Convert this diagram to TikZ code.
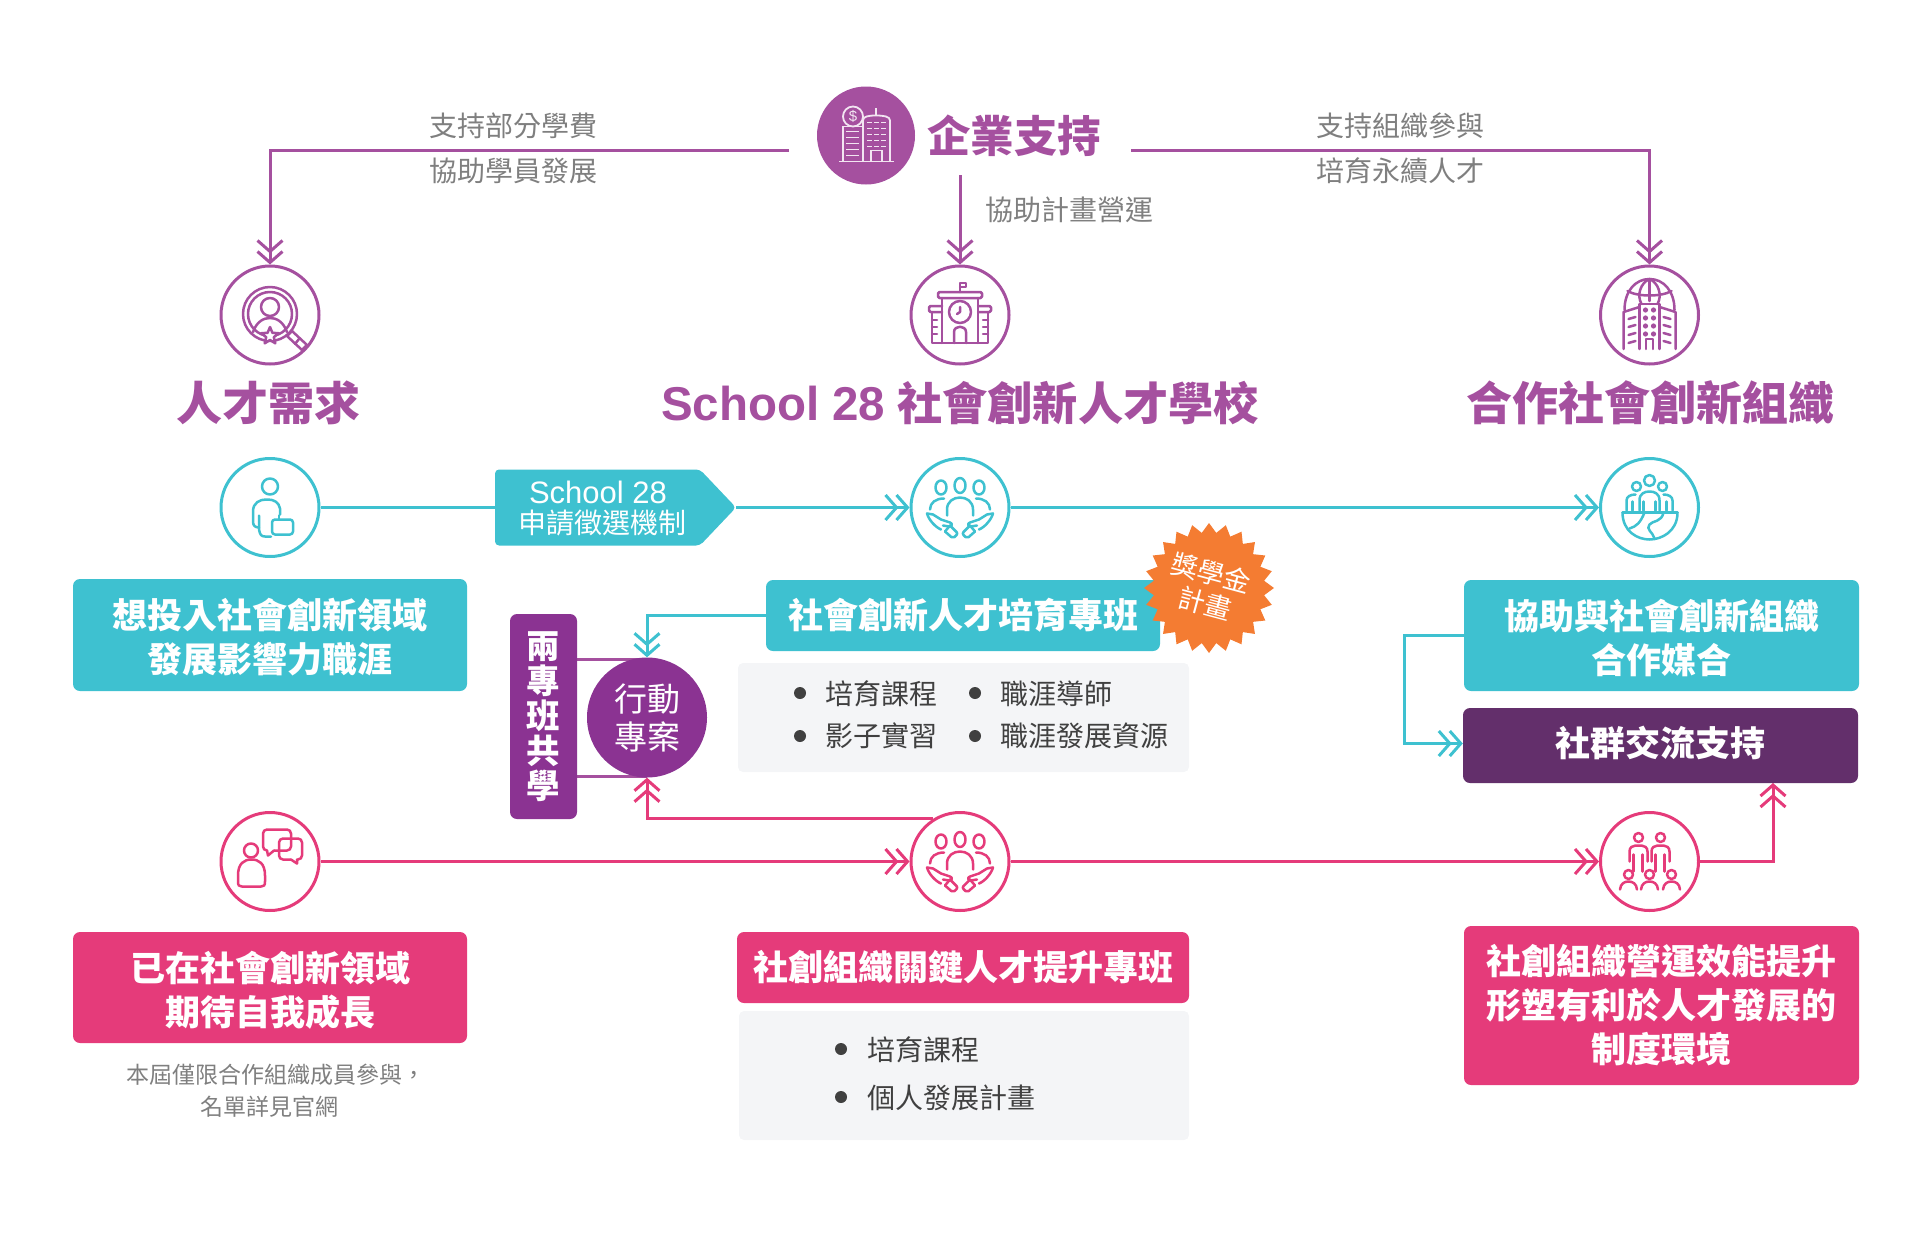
\documentclass[tikz,border=0pt]{standalone}
\usepackage{fontspec}
\setmainfont{Noto Sans CJK TC}
\newfontfamily\latf{Liberation Sans}
\usetikzlibrary{arrows.meta,shapes.geometric,shapes.symbols,backgrounds}
\definecolor{cpur}{HTML}{A5509F}
\definecolor{cvio}{HTML}{8B3392}
\definecolor{cdeep}{HTML}{632F6B}
\definecolor{cteal}{HTML}{3EC1D0}
\definecolor{cpink}{HTML}{E53B7A}
\definecolor{corg}{HTML}{F47C32}
\definecolor{cgr}{HTML}{7F7F7F}
\definecolor{cdk}{HTML}{404040}
\definecolor{cbg}{HTML}{F4F5F7}
\newcommand{\fz}[2]{\fontsize{#1}{#2}\selectfont}
\newcommand{\dn}[2][2.4pt]{\raisebox{-#1}[\height][\depth]{#2}}
\tikzset{
  chev/.style={-{Straight Barb[length=11pt,width=25pt,line width=3pt,sep=-3.5pt]Straight Barb[length=11pt,width=25pt,line width=3pt]}},
  conn/.style={line width=3pt,chev},
  plain/.style={line width=3pt},
  ring/.style={circle,draw=#1,line width=3pt,fill=white,minimum size=98pt,inner sep=0pt},
  box/.style={rectangle,rounded corners=7pt,fill=#1,text=white,font=\bfseries\fz{35}{44},align=center,inner sep=0pt},
  panel/.style={rectangle,rounded corners=5pt,fill=cbg,inner sep=0pt},
  lbl/.style={text=cgr,font=\fz{28}{30},inner sep=0pt},
  item/.style={text=cdk,font=\fz{28}{30},inner sep=0pt,anchor=west},
  head/.style={text=cpur,font=\bfseries\fz{46}{50},inner sep=0pt},
  dotb/.style={circle,fill=cdk,minimum size=12pt,inner sep=0pt},
  icon/.style={color=#1,line width=2.5pt,line cap=round,line join=round},
}
\newcommand{\icoMag}{%
  \draw (0,-1) circle[radius=27];
  \draw (0,-1) circle[radius=22];
  \draw (0,-8) circle[radius=9];
  \draw (-17,17) .. controls (-13,6) and (-6,3) .. (0,3) .. controls (6,3) and (13,6) .. (17,17);
  \draw[fill=white] (0,12) -- (2.4,17.8) -- (8.6,18.2) -- (3.8,22.2) -- (5.3,28.3) -- (0,25) -- (-5.3,28.3) -- (-3.8,22.2) -- (-8.6,18.2) -- (-2.4,17.8) -- cycle;
  \draw[fill=white] (17,21) -- (22,16) -- (37,30) -- (32,35) -- cycle;
  \draw (25,29) -- (29,24);
}
\newcommand{\icoSchool}{%
  \draw (0,-23) -- (0,-32) -- (6,-32) -- (6,-28) -- (0,-28);
  \draw[rounded corners=1.5pt] (-22,-23) rectangle (22,-17);
  \draw (-18,-17) -- (-18,28) (18,-17) -- (18,28);
  \draw[rounded corners=1.5pt] (-18,-9) -- (-31,-9) -- (-31,-3) -- (-18,-3);
  \draw[rounded corners=1.5pt] (18,-9) -- (31,-9) -- (31,-3) -- (18,-3);
  \draw (-28,-3) -- (-28,28) -- (28,28) -- (28,-3);
  \draw (0,-3) circle[radius=11];
  \draw (0,-3) -- (0,-8) (0,-3) -- (-3,-1);
  \draw (-6,28) -- (-6,17) .. controls (-6,10) and (6,10) .. (6,17) -- (6,28);
  \foreach \yy in {5,12,19}{\draw (-28,\yy) -- (-23,\yy) (28,\yy) -- (23,\yy);}
}
\newcommand{\icoGlobe}{%
  \draw (-25,-5) .. controls (-25,-24) and (-14,-36) .. (0,-36) .. controls (14,-36) and (25,-24) .. (25,-5);
  \draw (0,-36) -- (0,-14);
  \draw (-8,-11) .. controls (-13,-20) and (-9,-32) .. (0,-36) .. controls (9,-32) and (13,-20) .. (8,-11);
  \draw (-22,-24) .. controls (-12,-18) and (12,-18) .. (22,-24);
  \draw (-10,34) -- (-10,-11) -- (10,-11) -- (10,34);
  \foreach \yy in {-5,3,11,19}{\fill (-4,\yy) circle[radius=2.6]; \fill (4,\yy) circle[radius=2.6];}
  \draw (-3.5,34) -- (-3.5,24) -- (3.5,24) -- (3.5,34);
  \draw (-10,-8) -- (-26,-3) -- (-26,34);
  \draw (10,-8) -- (26,-3) -- (26,34);
  \foreach \yy in {4,12,20,28}{\draw (-21,\yy) -- (-14,\yy-2); \draw (21,\yy) -- (14,\yy-2);}
}
\newcommand{\icoPerson}{%
  \draw (0,-21) circle[radius=8];
  \draw (1,29) -- (-5,29) .. controls (-9,29) and (-10,27) .. (-11,22) -- (-11,8);
  \draw (-11,20) .. controls (-15,20) and (-17,18) .. (-17,14) -- (-17,4) .. controls (-17,-5) and (-10,-8) .. (-4,-8) -- (-2,-8) .. controls (4,-8) and (9,-5) .. (10,1) -- (10,7);
  \draw[rounded corners=3pt] (2,12) rectangle (23,27);
  \draw (9,12) -- (9,8);
}
\newcommand{\icoHands}{%
  \draw (0,-22) ellipse[x radius=5.5,y radius=7.5];
  \draw (-19,-20) ellipse[x radius=5.5,y radius=7];
  \draw (19,-20) ellipse[x radius=5.5,y radius=7];
  \draw (-13,8) -- (-13,2) .. controls (-13,-14) and (13,-14) .. (13,2) -- (13,8);
  \draw (-30,2) .. controls (-30,-5) and (-24,-9) .. (-16,-9);
  \draw (30,2) .. controls (30,-5) and (24,-9) .. (16,-9);
  \foreach \sg in {-1,1}{%
    \begin{scope}[xscale=\sg]
    \draw (33,6) .. controls (31,13) and (24,20) .. (19,22);
    \draw (33,6) -- (27,7) -- (19,12) -- (10,15) .. controls (7,16) and (8,19) .. (11,19) -- (17,18);
    \draw[rounded corners=2pt] (15,24) -- (7,31) -- (2,26) -- (10,18);
    \draw (15,24) -- (10,18);
    \end{scope}}
}
\newcommand{\icoEarth}{%
  \draw (0,-27) ellipse[x radius=5.5,y radius=5.5];
  \draw (-13,-21) circle[radius=4.5];
  \draw (13,-21) circle[radius=4.5];
  \draw (-10,3) -- (-10,-7) .. controls (-10,-14) and (-5,-16) .. (0,-16) .. controls (5,-16) and (10,-14) .. (10,-7) -- (10,3);
  \draw (-6,-6) -- (-6,3) (6,-6) -- (6,3);
  \draw (-23,3) -- (-23,-7) .. controls (-23,-11) and (-19,-13) .. (-14,-13);
  \draw (23,3) -- (23,-7) .. controls (23,-11) and (19,-13) .. (14,-13);
  \draw (-17,-6) -- (-17,3) (17,-6) -- (17,3);
  \draw (-27,5) -- (28,5);
  \draw (-27,5) .. controls (-27,24) and (-12,32) .. (0,32) .. controls (12,32) and (28,24) .. (28,5);
  \draw (-20,21) .. controls (-13,19) and (-9,15) .. (-5,5);
  \draw (5,31) .. controls (3,24) and (-4,22) .. (0,17) .. controls (3,13) and (12,15) .. (14,5);
}
\newcommand{\icoCrowd}{%
  \foreach \sx in {-11,11}{%
    \draw (\sx,-24) circle[radius=4.5];
    \draw (\sx-9,0) -- (\sx-9,-10) .. controls (\sx-9,-14) and (\sx-6,-16) .. (\sx-3,-16) -- (\sx+3,-16) .. controls (\sx+6,-16) and (\sx+9,-14) .. (\sx+9,-10) -- (\sx+9,0);
    \draw (\sx-5,-7) -- (\sx-5,10) (\sx+4,-7) -- (\sx+4,10);
  }
  \foreach \sx in {-21,0,22}{%
    \draw (\sx,13) circle[radius=4.5];
    \draw (\sx-8.5,28) .. controls (\sx-8,22) and (\sx-4,20) .. (\sx,20) .. controls (\sx+4,20) and (\sx+8,22) .. (\sx+8.5,28);
  }
}
\newcommand{\icoTalk}{%
  \draw (-19,-11) circle[radius=7];
  \draw (-32,14) .. controls (-32,2) and (-26,-2) .. (-18.5,-2) .. controls (-11,-2) and (-5,2) .. (-5,14) -- (-5,20) .. controls (-5,24) and (-6,25) .. (-9,25) -- (-28,25) .. controls (-31,25) and (-32,24) .. (-32,20) -- cycle;
  \draw[rounded corners=4pt] (-3,-11) -- (-7,-11) -- (-7,-32) -- (21,-32) -- (21,-11) -- (4,-11);
  \draw (-3,-11) -- (-2,-6) -- (4,-11);
  \draw[rounded corners=4pt] (21,-2) -- (9,-2) -- (9,-23) -- (32,-23) -- (32,-2) -- (27,-2);
  \draw (21,-2) -- (27,2) -- (27,-2);
}
\begin{document}
\begin{tikzpicture}[x=1pt,y=-1pt]
\useasboundingbox (0,0) rectangle (1920,1250);

% top
\node[circle,fill=cpur,minimum size=98pt,inner sep=0pt] (top) at (866,135.5) {};
\node[inner sep=0pt,text=cpur,font=\bfseries\fz{43.5}{46}] (toplab) at (1014,136) {企業支持};
\begin{scope}[shift={(top.center)},color=white!85!cpur,line width=1.8pt]
  \draw (-13,-19) circle[radius=10];
  \node[inner sep=0pt,font=\latf\fz{15}{15},text=white!85!cpur] (dollar) at (-13,-19) {\$};
  \draw (-23,26) -- (-23,-9) -- (-4,-9);
  \draw (-3,26) -- (-3,-15) .. controls (-3,-19) and (2,-20) .. (10,-20) .. controls (18,-20) and (24,-19) .. (24,-15) -- (24,26);
  \draw (10,-20) -- (10,-28);
  \draw (-27,26) -- (28,26);
  \foreach \yy in {-4,2,8,14,20}{\draw (-20,\yy) -- (-7,\yy);}
  \foreach \yy in {-13,-7,-1,5,11}{\foreach \xx in {1,8,15}{\draw (\xx,\yy) -- (\xx+4.5,\yy);}}
  \draw (5,26) -- (5,15) -- (16,15) -- (16,26);
\end{scope}

% purple rings and heads
\node[ring=cpur] (c1) at (270,315) {};
\node[ring=cpur] (c2) at (960,315) {};
\node[ring=cpur] (c3) at (1649.5,315) {};
\begin{scope}[shift={(c1.center)},icon=cpur]\icoMag\end{scope}
\begin{scope}[shift={(c2.center)},icon=cpur]\icoSchool\end{scope}
\begin{scope}[shift={(c3.center)},icon=cpur]\icoGlobe\end{scope}
\node[head] (h1) at (268,403) {人才需求};
\node[head,font=\bfseries\fz{45.2}{50}] (h2) at (960,403) {{\latf\fz{47.5}{50}School 28}\hspace{12pt}社會創新人才學校};
\node[head] (h3) at (1650,403) {合作社會創新組織};

% labels
\node[lbl] (l1) at (513.5,126) {支持部分學費};
\node[lbl] (l2) at (513.5,171) {協助學員發展};
\node[lbl] (l3) at (1069,210) {協助計畫營運};
\node[lbl] (l4) at (1400,126) {支持組織參與};
\node[lbl] (l5) at (1400,171) {培育永續人才};

% teal row
\node[ring=cteal] (t1) at (270,507.5) {};
\node[ring=cteal] (t2) at (960,507.5) {};
\node[ring=cteal] (t3) at (1649.5,507.5) {};
\begin{scope}[shift={(t1.center)},icon=cteal]\icoPerson\end{scope}
\begin{scope}[shift={(t2.center)},icon=cteal]\icoHands\end{scope}
\begin{scope}[shift={(t3.center)},icon=cteal]\icoEarth\end{scope}
\node[signal,signal to=east,signal pointer angle=93,fill=cteal,rounded corners=4pt,minimum width=241pt,minimum height=76pt,inner sep=0pt,text=white,align=center] (pen) at (597.5,507.5) {};
\node[inner sep=0pt,text=white,font=\latf\fz{31}{32}] (pen1) at (598,492) {School 28};
\node[inner sep=0pt,text=white,font=\fz{28}{30}] (pen2) at (602,523) {申請徵選機制};

% teal boxes
\node[box=cteal,minimum width=394pt,minimum height=112pt] (bx1) at (270,635) {\dn{想投入社會創新領域}\\\dn{發展影響力職涯}};
\node[box=cteal,minimum width=394pt,minimum height=71pt] (bx2) at (963,615.5) {社會創新人才培育專班};
\node[box=cteal,minimum width=395pt,minimum height=111pt] (bx3) at (1661.5,635.5) {\dn{協助與社會創新組織}\\\dn{合作媒合}};
\node[box=cdeep,minimum width=395pt,minimum height=75pt] (bx4) at (1660.5,745.5) {\dn[-2.4pt]{社群交流支持}};

% scholarship burst
\node[star,star points=24,star point ratio=1.17,fill=corg,minimum size=130pt,inner sep=0pt] (burst) at (1209,588) {};
\node[inner sep=0pt,text=white,font=\fz{27}{30},rotate=-15] (bu1) at (1211,573) {獎學金};
\node[inner sep=0pt,text=white,font=\fz{27}{30},rotate=-15] (bu2) at (1205,604) {計畫};

% panel 1
\node[panel,minimum width=451pt,minimum height=109pt] (p1) at (963.5,717.5) {};
\node[dotb] (d1) at (800,693) {};
\node[dotb] (d2) at (975,693) {};
\node[dotb] (d3) at (800,736) {};
\node[dotb] (d4) at (975,736) {};
\node[item] (i1) at (825,694) {培育課程};
\node[item] (i2) at (1000,694) {職涯導師};
\node[item] (i3) at (825,736) {影子實習};
\node[item] (i4) at (1000,736) {職涯發展資源};

% two-class block
\node[rectangle,rounded corners=7pt,fill=cvio,text=white,font=\bfseries\fz{33.5}{35},align=center,inner sep=0pt,minimum width=67pt,minimum height=205pt] (bar) at (543.5,716.5) {兩\\專\\班\\共\\學};
\node[circle,fill=cvio,text=white,font=\fz{33}{38},align=center,inner sep=0pt,minimum size=120pt] (act) at (647,717.5) {行動\\專案};
\coordinate (barT) at (577,659);
\coordinate (barB) at (577,776);
\coordinate (actT) at (647,659);
\coordinate (actB) at (647,776);

% pink row
\node[ring=cpink] (r1) at (270,861.5) {};
\node[ring=cpink] (r2) at (960,861.5) {};
\node[ring=cpink] (r3) at (1649.5,861.5) {};
\begin{scope}[shift={(r1.center)},icon=cpink]\icoTalk\end{scope}
\begin{scope}[shift={(r2.center)},icon=cpink]\icoHands\end{scope}
\begin{scope}[shift={(r3.center)},icon=cpink]\icoCrowd\end{scope}
\node[box=cpink,minimum width=394pt,minimum height=111pt] (bx5) at (270,987.5) {\dn{已在社會創新領域}\\\dn{期待自我成長}};
\node[box=cpink,minimum width=452pt,minimum height=71pt] (bx6) at (963,967.5) {社創組織關鍵人才提升專班};
\node[box=cpink,minimum width=395pt,minimum height=159pt] (bx7) at (1661.5,1005.5) {社創組織營運效能提升\\形塑有利於人才發展的\\制度環境};
\node[text=cgr,font=\fz{23}{31.5},align=center,inner sep=0pt] (note) at (269.5,1090.5) {\hspace*{12pt}本屆僅限合作組織成員參與，\\名單詳見官網};

% panel 2
\node[panel,minimum width=450pt,minimum height=129pt] (p2) at (964,1075.5) {};
\node[dotb] (d5) at (841,1049) {};
\node[dotb] (d6) at (841,1097) {};
\node[item] (i5) at (867,1050) {培育課程};
\node[item] (i6) at (867,1098) {個人發展計畫};

% connectors
\coordinate (s1) at (789,150);
\coordinate (s2) at (1131,150);
\coordinate (s3) at (960,175);
\coordinate (s4) at (1773,783);
\begin{scope}[on background layer]
  \draw[conn,draw=cpur,cpur] (s1) -| (c1.north);
  \draw[conn,draw=cpur,cpur] (s2) -| (c3.north);
  \draw[conn,draw=cpur,cpur] (s3) -- (c2.north);
  \draw[plain,draw=cteal] (t1.east) -- (pen.west);
  \draw[conn,draw=cteal,cteal] (pen.east) -- (t2.west);
  \draw[conn,draw=cteal,cteal] (t2.east) -- (t3.west);
  \draw[conn,draw=cteal,cteal] (bx2.west) -| (act.north);
  \draw[conn,draw=cteal,cteal] (bx3.west) -| ++(-59,0) |- ([yshift=2pt]bx4.west);
  \draw[plain,draw=cpur] (barT) -- (actT);
  \draw[plain,draw=cpur] (barB) -- (actB);
  \draw[conn,draw=cpink,cpink] (r1.east) -- (r2.west);
  \draw[conn,draw=cpink,cpink] (r2.east) -- (r3.west);
  \draw[conn,draw=cpink,cpink] (r2.122) -| (act.south);
  \draw[conn,draw=cpink,cpink] (r3.east) -| (s4);
\end{scope}
\end{tikzpicture}
\end{document}
